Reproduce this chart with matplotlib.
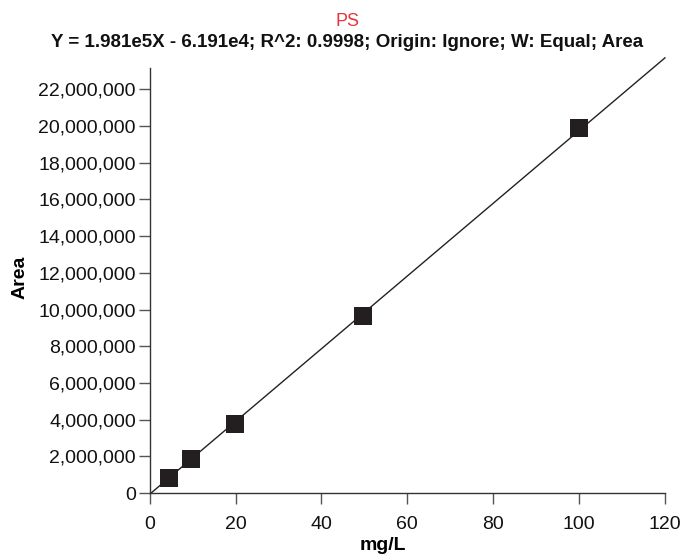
import numpy as np
import matplotlib
matplotlib.use("Agg")
import matplotlib.pyplot as plt
from matplotlib.ticker import FuncFormatter

plt.rcParams['font.family'] = ['Liberation Sans', 'DejaVu Sans']

# calibration points
conc = [4.6, 9.7, 19.8, 49.6, 100.0]
area = [0.83e6, 1.84e6, 3.74e6, 9.65e6, 19.87e6]

# fit reported in the title
slope = 1.981e5
intercept = -6.191e4

x_ticks = [0, 20, 40, 60, 80, 100, 120]
y_ticks = list(range(0, 22000001, 2000000))

fig = plt.figure(figsize=(6.82, 5.54), dpi=100)
ax = fig.add_axes([0.2195, 0.110, 0.7555, 0.767])

# regression line from y=0 up to x=120 (runs past the top of the axes)
x0 = -intercept / slope
xl = np.array([x0, 120])
ax.plot(xl, slope * xl + intercept, color='#222222', lw=1.0, clip_on=False, zorder=2)

ax.plot(conc, area, 's', color='#231f20', markersize=13.5, markeredgewidth=0,
        zorder=3, clip_on=False)

ax.set_xlim(0, 120)
ax.set_ylim(0, 23.15e6)
ax.set_xticks(x_ticks)
ax.set_yticks(y_ticks)
ax.yaxis.set_major_formatter(FuncFormatter(lambda v, p: f"{int(v):,}"))

for s in ['top', 'right']:
    ax.spines[s].set_visible(False)
for s in ['left', 'bottom']:
    ax.spines[s].set_color('#333333')
    ax.spines[s].set_linewidth(1.0)
ax.tick_params(length=8, width=1, color='#555555', labelsize=14, labelcolor='#111111')
ax.tick_params(axis='x', pad=8.5)
ax.tick_params(axis='y', pad=2)

ax.set_xlabel('mg/L', fontsize=14, fontweight='bold', va='baseline')
ax.xaxis.set_label_coords(0.453, -0.135)
ax.set_ylabel('Area', fontsize=14, fontweight='bold', ha='center', va='center')
ax.yaxis.set_label_coords(-0.252, 0.507)

fig.text(0.509, 0.953, 'PS', color='#e8343a', fontsize=13, ha='center', va='baseline')
fig.text(0.509, 0.915, 'Y = 1.981e5X - 6.191e4; R^2: 0.9998; Origin: Ignore; W: Equal; Area',
         fontsize=13.5, fontweight='bold', ha='center', va='baseline', color='#111111')

fig.savefig('out.png', dpi=100)
